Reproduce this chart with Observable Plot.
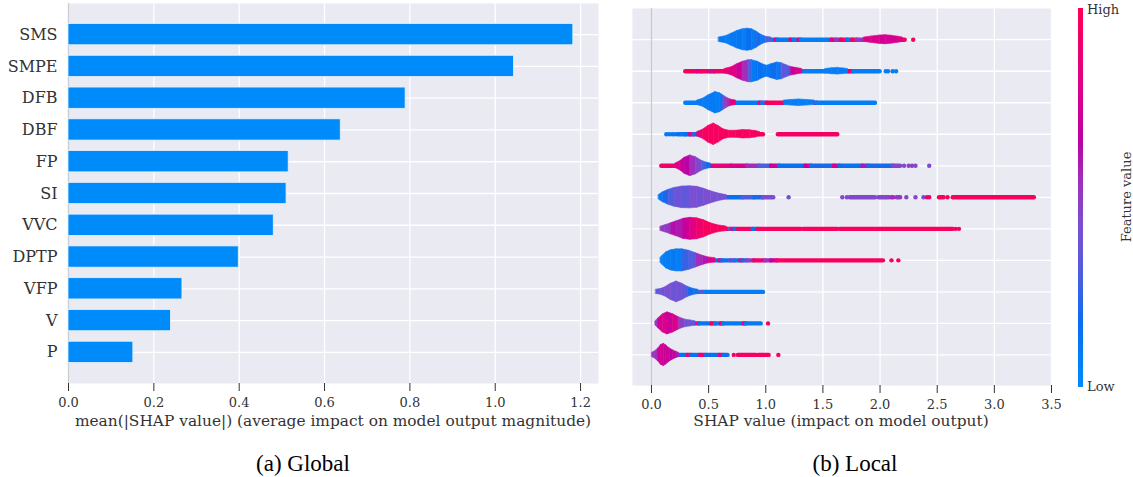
<!DOCTYPE html>
<html><head><meta charset="utf-8">
<script src="https://cdn.jsdelivr.net/npm/d3@7"></script>
<script src="https://cdn.jsdelivr.net/npm/@observablehq/plot@0.6"></script>
<style>
body{margin:0;background:#fff;}
#wrap{position:relative;width:1133px;height:477px;font-family:"DejaVu Serif",serif;color:#333;overflow:hidden;}
.abs{position:absolute;white-space:nowrap;}
</style></head><body><div id="wrap"></div>
<script>
// ---------- data ----------
const features = ["SMS","SMPE","DFB","DBF","FP","SI","VVC","DPTP","VFP","V","P"];
const meanAbsShap = [1.183,1.044,0.790,0.638,0.516,0.511,0.481,0.399,0.267,0.240,0.152];
const globalTicks = [0,0.2,0.4,0.6,0.8,1.0,1.2];
const localTicks = [0,0.5,1,1.5,2,2.5,3,3.5];
const colorStops = [0,0.17,0.3,0.42,0.55,0.65,0.8,1];
const colorRamp = ["#008bfb","#0a6df0","#4f5de0","#7a4fd2","#a02ebb","#bb00a6","#df0086","#ff0052"];

// violin bodies: pieces of knots [SHAP value, relative density, feature value]
const SMS_body = [
 [[0.59,0.2,0.1],[0.65,0.32,0.08],[0.70,0.55,0.1],[0.75,0.79,0.12],[0.80,0.95,0.08],[0.84,1.0,0.16],[0.88,0.94,0.1],[0.92,0.73,0.2],[0.96,0.45,0.1],[1.00,0.27,0.3],[1.05,0.2,0.15]],
 [[1.86,0.2,0.8],[1.93,0.3,0.78],[2.00,0.38,0.74],[2.05,0.41,0.75],[2.10,0.36,0.76],[2.16,0.27,0.8],[2.20,0.2,0.9]]
];
const SMPE_body = [
 [[0.64,0.2,0.85],[0.70,0.36,0.8],[0.75,0.64,0.72],[0.80,0.86,0.55],[0.85,1.0,0.3],[0.88,1.0,0.1],[0.93,0.86,0.15],[0.98,0.6,0.1],[1.01,0.5,0.12],[1.05,0.64,0.18],[1.10,0.79,0.1],[1.14,0.73,0.35],[1.18,0.55,0.3],[1.22,0.39,0.7],[1.27,0.29,0.8],[1.32,0.2,0.1]],
 [[1.52,0.2,0.08],[1.58,0.27,0.08],[1.63,0.3,0.08],[1.68,0.25,0.08],[1.72,0.2,0.08]]
];
const DFB_body = [
 [[0.40,0.2,0.1],[0.45,0.36,0.08],[0.50,0.68,0.1],[0.56,0.97,0.08],[0.60,0.85,0.12],[0.63,0.65,0.45],[0.66,0.45,0.55],[0.69,0.3,0.85],[0.74,0.2,0.85]],
 [[1.16,0.2,0.08],[1.22,0.25,0.08],[1.29,0.3,0.08],[1.36,0.25,0.08],[1.43,0.2,0.08]]
];
const DBF_body = [
 [[0.40,0.2,0.85],[0.45,0.41,0.95],[0.50,0.77,0.95],[0.545,0.97,0.95],[0.59,0.73,0.95],[0.63,0.45,0.95],[0.68,0.32,0.95],[0.74,0.32,0.95],[0.80,0.38,0.95],[0.86,0.36,0.95],[0.91,0.3,0.95],[0.95,0.2,0.95]]
];
const FP_body = [
 [[0.21,0.2,0.78],[0.25,0.41,0.72],[0.29,0.73,0.65],[0.34,0.94,0.55],[0.39,0.77,0.45],[0.44,0.45,0.3],[0.48,0.29,0.15],[0.52,0.2,0.15]]
];
const SI_body = [
 [[0.064,0.2,0.1],[0.10,0.45,0.2],[0.15,0.68,0.3],[0.20,0.85,0.38],[0.27,0.98,0.35],[0.34,1.0,0.42],[0.40,0.95,0.4],[0.46,0.77,0.42],[0.52,0.55,0.42],[0.58,0.36,0.4],[0.63,0.25,0.42],[0.66,0.2,0.2]]
];
const VVC_body = [
 [[0.08,0.2,0.5],[0.12,0.32,0.5],[0.17,0.5,0.62],[0.22,0.68,0.6],[0.28,0.91,0.7],[0.34,1.0,0.82],[0.40,0.95,0.9],[0.46,0.77,0.95],[0.52,0.5,0.95],[0.58,0.32,0.95],[0.64,0.23,0.95],[0.66,0.2,0.95]]
];
const DPTP_body = [
 [[0.08,0.23,0.08],[0.10,0.45,0.08],[0.13,0.73,0.08],[0.17,0.91,0.1],[0.22,1.0,0.08],[0.27,1.0,0.25],[0.33,0.86,0.3],[0.39,0.64,0.55],[0.45,0.41,0.6],[0.50,0.27,0.82],[0.56,0.2,0.85]]
];
const VFP_body = [
 [[0.04,0.2,0.35],[0.08,0.25,0.38],[0.12,0.41,0.42],[0.17,0.73,0.38],[0.22,0.94,0.4],[0.27,0.73,0.35],[0.32,0.45,0.2],[0.37,0.27,0.12],[0.41,0.2,0.12]]
];
const V_body = [
 [[0.035,0.2,0.5],[0.06,0.45,0.75],[0.10,0.82,0.78],[0.14,1.0,0.72],[0.19,0.82,0.78],[0.24,0.55,0.5],[0.29,0.36,0.4],[0.34,0.27,0.35],[0.385,0.2,0.9]]
];
const P_body = [
 [[0.006,0.2,0.5],[0.03,0.32,0.55],[0.06,0.59,0.72],[0.085,0.91,0.75],[0.108,1.0,0.7],[0.13,0.86,0.75],[0.16,0.59,0.65],[0.19,0.41,0.7],[0.22,0.27,0.6],[0.24,0.2,0.3]]
];

// dense runs of points: [from SHAP, to SHAP, feature value]
const SMS_tail = [[1.05,1.09,0.08],[1.09,1.11,0.9],[1.11,1.22,0.1],[1.22,1.25,0.85],[1.25,1.29,0.1],[1.29,1.31,0.8],[1.31,1.58,0.08],[1.58,1.62,0.85],[1.62,1.66,0.5],[1.66,1.72,0.9],[1.72,1.76,0.1],[1.76,1.80,0.95],[1.80,1.86,0.5],[2.19,2.22,0.95]];
const SMPE_tail = [[0.30,0.40,0.95],[0.40,0.44,0.8],[0.44,0.52,0.95],[0.52,0.55,0.6],[0.55,0.65,0.9],[1.32,1.53,0.08],[1.71,1.73,0.08],[1.73,1.77,0.9],[1.77,2.0,0.08]];
const DFB_tail = [[0.30,0.40,0.08],[0.74,0.95,0.1],[0.95,0.97,0.9],[0.97,1.01,0.1],[1.01,1.16,0.95],[1.43,1.45,0.95],[1.45,1.96,0.08]];
const DBF_tail = [[0.245,0.30,0.1],[0.30,0.34,0.15],[0.34,0.37,0.85],[0.37,0.41,0.2],[0.95,0.98,0.95],[1.11,1.63,0.93]];
const FP_tail = [[0.09,0.21,0.92],[0.52,0.70,0.85],[0.70,0.84,0.78],[0.84,0.95,0.55],[0.95,1.05,0.3],[1.05,1.12,0.7],[1.12,1.35,0.15],[1.35,1.40,0.7],[1.40,1.60,0.2],[1.60,1.65,0.75],[1.65,1.85,0.15],[1.85,1.90,0.6],[1.90,2.12,0.2],[2.12,2.18,0.45]];
const SI_tail = [[0.66,0.80,0.15],[0.80,0.90,0.3],[0.90,0.98,0.2],[0.98,1.07,0.42],[1.74,1.96,0.45],[1.99,2.08,0.45],[2.10,2.12,0.55],[2.15,2.18,0.5],[2.52,2.56,0.95],[2.64,3.35,0.95]];
const VVC_tail = [[0.66,0.69,0.95],[0.69,0.71,0.3],[0.71,0.73,0.9],[0.73,0.76,0.2],[0.76,0.89,0.95],[0.89,0.93,0.15],[0.93,1.31,0.95],[1.33,1.63,0.95],[1.65,2.64,0.95]];
const DPTP_tail = [[0.56,0.60,0.15],[0.60,0.62,0.9],[0.62,0.70,0.15],[0.70,0.73,0.5],[0.73,0.78,0.12],[0.78,0.80,0.9],[0.80,0.84,0.2],[0.84,0.90,0.5],[0.90,1.0,0.9],[1.0,1.05,0.5],[1.05,1.10,0.7],[1.10,2.03,0.95]];
const VFP_tail = [[0.41,0.48,0.3],[0.48,0.98,0.08]];
const V_tail = [[0.385,0.42,0.92],[0.42,0.53,0.12],[0.53,0.56,0.92],[0.56,0.61,0.12],[0.61,0.63,0.92],[0.63,0.81,0.1],[0.81,0.83,0.9],[0.83,0.96,0.1]];
const P_tail = [[0.24,0.32,0.15],[0.32,0.35,0.9],[0.35,0.43,0.15],[0.43,0.48,0.9],[0.48,0.60,0.15],[0.60,0.63,0.9],[0.63,0.67,0.15],[0.76,0.92,0.95],[0.94,1.03,0.95]];

// isolated points: [SHAP, feature value]
const SMS_dots = [[2.29,0.95]];
const SMPE_dots = [[2.05,0.08],[2.07,0.08],[2.11,0.08],[2.14,0.08]];
const DFB_dots = [];
const DBF_dots = [[0.13,0.1],[0.155,0.1],[0.18,0.12],[0.20,0.1],[0.225,0.15]];
const FP_dots = [[2.21,0.45],[2.25,0.45],[2.28,0.5],[2.31,0.45],[2.43,0.45]];
const SI_dots = [[1.20,0.42],[1.67,0.45],[1.71,0.45],[2.23,0.45],[2.31,0.45],[2.38,0.45],[2.41,0.9],[2.43,0.9],[2.59,0.95]];
const VVC_dots = [[2.66,0.95],[2.69,0.95]];
const DPTP_dots = [[2.10,0.95],[2.16,0.95]];
const VFP_dots = [];
const V_dots = [[1.02,0.95]];
const P_dots = [[0.72,0.95],[1.11,0.95]];

// ---------- tables ----------
const bodies = [SMS_body,SMPE_body,DFB_body,DBF_body,FP_body,SI_body,VVC_body,DPTP_body,VFP_body,V_body,P_body];
const tails = [SMS_tail,SMPE_tail,DFB_tail,DBF_tail,FP_tail,SI_tail,VVC_tail,DPTP_tail,VFP_tail,V_tail,P_tail];
const dotsets = [SMS_dots,SMPE_dots,DFB_dots,DBF_dots,FP_dots,SI_dots,VVC_dots,DPTP_dots,VFP_dots,V_dots,P_dots];

const HALF = 0.35; // half of max violin width, in row units
const segs = [];
bodies.forEach((pieces,row)=>pieces.forEach((kn,p)=>{
  for(let k=0;k<kn.length-1;k++){
    const id=row+"-"+p+"-"+k;
    [kn[k],kn[k+1]].forEach(q=>segs.push({id,row,x:q[0],d:q[1],c:kn[k][2]}));
  }
}));
const tailRows=[]; tails.forEach((t,row)=>t.forEach(s=>tailRows.push({row,x1:s[0],x2:s[1],c:s[2]})));
const dotRows=[]; dotsets.forEach((t,row)=>t.forEach(s=>dotRows.push({row,x:s[0],c:s[1]})));
const barTable = features.map((f,i)=>({feature:f,value:meanAbsShap[i]}));

const cmap = d3.scaleLinear().domain(colorStops).range(colorRamp).interpolate(d3.interpolateRgb).clamp(true);
const fmt = d3.format(".1f");
const BG="#eaeaf2";
const style={fontFamily:"DejaVu Serif",color:"#333",background:"transparent",overflow:"visible"};

const left = Plot.plot({
  width:615,height:440,marginTop:3,marginBottom:57,marginLeft:68,marginRight:17,
  style,
  x:{domain:[0,1.242]},
  y:{domain:features,paddingInner:0.33,paddingOuter:0.645,round:false},
  marks:[
    Plot.frame({fill:BG,stroke:"none"}),
    Plot.gridX(globalTicks,{stroke:"white",strokeOpacity:1,strokeWidth:1.3}),
    Plot.gridY({stroke:"white",strokeOpacity:1,strokeWidth:1.3}),
    Plot.ruleX([0],{stroke:"#cccccc",strokeWidth:1.3}),
    Plot.barX(barTable,{x:"value",y:"feature",fill:"#008bfb",stroke:"#e6f2ff",strokeWidth:0.8}),
    Plot.axisX(globalTicks,{tickSize:8,tickPadding:6,tickFormat:fmt,label:null,fontSize:13}),
    Plot.axisY({tickSize:0,tickPadding:11,fontSize:16,label:null})
  ]
});

const right = Plot.plot({
  width:440,height:440,marginTop:8,marginBottom:55,marginLeft:17,marginRight:4,
  style,
  x:{domain:[-0.166,3.5]},
  y:{domain:[-0.99,10.97],reverse:true,axis:null},
  color:{type:"linear",domain:[0,1],interpolate:t=>cmap(t)},
  marks:[
    Plot.frame({fill:BG,stroke:"none"}),
    Plot.gridX(localTicks,{stroke:"white",strokeOpacity:1,strokeWidth:1.3}),
    Plot.ruleY(features.map((f,i)=>i),{stroke:"white",strokeWidth:1.3}),
    Plot.ruleX([0],{stroke:"#c8c8cc",strokeWidth:1.3}),
    Plot.ruleY(tailRows,{y:"row",x1:"x1",x2:"x2",stroke:"c",strokeWidth:4.4,strokeLinecap:"round"}),
    Plot.areaY(segs,{x:"x",y1:d=>d.row-d.d*HALF,y2:d=>d.row+d.d*HALF,z:"id",fill:"c",stroke:"c",strokeWidth:0.6}),
    Plot.dot(dotRows,{x:"x",y:"row",r:2.2,fill:"c"}),
    Plot.axisX(localTicks,{tickSize:8,tickPadding:6,tickFormat:fmt,label:null,fontSize:13})
  ]
});

const wrap=document.getElementById("wrap");
function place(el,l,t){const d=document.createElement("div");d.className="abs";d.style.left=l+"px";d.style.top=t+"px";d.appendChild(el);wrap.appendChild(d);return d;}
place(left,0,0);
place(right,615,0);
function label(txt,cx,cy,size,extra){
  const d=document.createElement("div");d.className="abs";d.textContent=txt;
  d.style.left=cx+"px";d.style.top=cy+"px";d.style.fontSize=size+"px";d.style.lineHeight="1";
  d.style.transform="translate(-50%,-50%)"+(extra||"");
  wrap.appendChild(d);return d;
}
label("mean(|SHAP value|) (average impact on model output magnitude)",333,422,15.4);
label("SHAP value (impact on model output)",841,422,15.4);
const bar=document.createElement("div");bar.className="abs";
bar.style.cssText+="left:1078px;top:8px;width:5px;height:379px;background:linear-gradient(to top,"+colorRamp.map((c,i)=>c+" "+(colorStops[i]*100)+"%").join(",")+");";
wrap.appendChild(bar);
const hi=label("High",1087,9,13);hi.style.transform="translate(0,-50%)";
const lo=label("Low",1087,386,13);lo.style.transform="translate(0,-50%)";
label("Feature value",1126,197,13," rotate(-90deg)");
const c1=label("(a) Global",303,463,23);c1.style.fontFamily="'Liberation Serif',serif";c1.style.color="#000";
const c2=label("(b) Local",855,463,23);c2.style.fontFamily="'Liberation Serif',serif";c2.style.color="#000";
</script></body></html>
